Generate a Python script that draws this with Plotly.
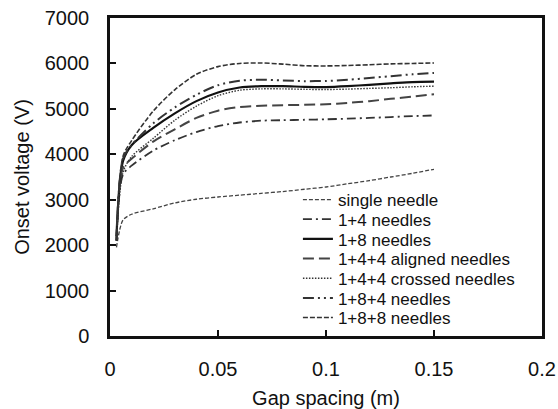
import plotly.graph_objects as go

gap = [0.003, 0.006, 0.01, 0.02, 0.03, 0.04, 0.05, 0.06, 0.07, 0.08, 0.09,
       0.10, 0.11, 0.12, 0.13, 0.14, 0.15]

single_needle = [1950, 2550, 2680, 2800, 2930, 3010, 3060, 3100, 3140, 3180, 3230,
                 3280, 3350, 3420, 3500, 3580, 3670]
n1_4 = [2100, 3550, 3750, 4080, 4310, 4490, 4620, 4700, 4740, 4750, 4760,
        4770, 4785, 4800, 4820, 4840, 4855]
n1_8 = [2200, 3850, 4200, 4580, 4900, 5170, 5360, 5470, 5500, 5500, 5485,
        5480, 5500, 5530, 5560, 5590, 5600]
n1_4_4_aligned = [2100, 3700, 3900, 4280, 4550, 4800, 4960, 5040, 5070, 5080, 5090,
                  5100, 5130, 5170, 5220, 5270, 5320]
n1_4_4_crossed = [2100, 3600, 3950, 4350, 4750, 5060, 5290, 5410, 5440, 5440, 5430,
                  5425, 5435, 5450, 5465, 5485, 5500]
n1_8_4 = [2100, 3900, 4200, 4680, 5030, 5310, 5520, 5620, 5640, 5625, 5610,
          5615, 5640, 5680, 5720, 5760, 5790]
n1_8_8 = [2100, 3950, 4300, 4950, 5420, 5760, 5930, 6000, 6010, 5985, 5950,
          5945, 5955, 5970, 5990, 6000, 6010]

names = ["single needle", "1+4 needles", "1+8 needles", "1+4+4 aligned needles",
         "1+4+4 crossed needles", "1+8+4 needles", "1+8+8 needles"]
series = [single_needle, n1_4, n1_8, n1_4_4_aligned, n1_4_4_crossed, n1_8_4, n1_8_8]
styles = [
    dict(color="#444444", width=1.3, dash="4px,2px"),
    dict(color="#333333", width=1.8, dash="9px,4px,2px,4px"),
    dict(color="#111111", width=2.2, dash="solid"),
    dict(color="#444444", width=2.0, dash="11px,5px"),
    dict(color="#333333", width=1.4, dash="1.5px,1.5px"),
    dict(color="#333333", width=2.0, dash="11px,4px,2px,4px,2px,4px"),
    dict(color="#333333", width=1.6, dash="5px,2px"),
]

fig = go.Figure()
legend_top = 0.4277
legend_step = 0.06185
for i, (nm, ys, st) in enumerate(zip(names, series, styles)):
    lg = "legend" if i == 0 else f"legend{i+1}"
    fig.add_trace(go.Scatter(x=gap, y=ys, name=nm, mode="lines", showlegend=True,
                             line=dict(shape="spline", smoothing=0.8, **st),
                             legend=lg))

font = "Liberation Sans, Arial, sans-serif"
layout_legends = {}
for i in range(len(names)):
    key = "legend" if i == 0 else f"legend{i+1}"
    layout_legends[key] = dict(
        x=0.435, y=legend_top - i * legend_step, xanchor="left", yanchor="middle",
        bgcolor="rgba(0,0,0,0)", borderwidth=0, itemwidth=30,
        font=dict(family=font, size=17, color="#111"),
    )

fig.update_layout(
    width=558, height=409,
    margin=dict(l=110, r=16, t=18, b=73),
    paper_bgcolor="white", plot_bgcolor="white",
    font=dict(family=font, size=20, color="#111"),
    showlegend=True,
    **layout_legends,
)
fig.update_xaxes(
    range=[0, 0.2], dtick=0.05, tick0=0, showgrid=False, zeroline=False,
    showline=True, linecolor="#111", linewidth=2.5, mirror=True,
    ticks="inside", ticklen=6, tickwidth=2, tickcolor="#111",
    ticklabelstandoff=13, automargin=False,
    title=dict(text="Gap spacing (m)", font=dict(size=20), standoff=18),
)
fig.update_yaxes(
    range=[0, 7000], dtick=1000, tick0=0, showgrid=False, zeroline=False,
    showline=True, linecolor="#111", linewidth=2.5, mirror=True,
    ticks="inside", ticklen=6, tickwidth=2, tickcolor="#111",
    ticklabelstandoff=14, automargin=False,
    title=dict(text="Onset voltage (V)", font=dict(size=20), standoff=10),
)

fig.write_html("out.html")
